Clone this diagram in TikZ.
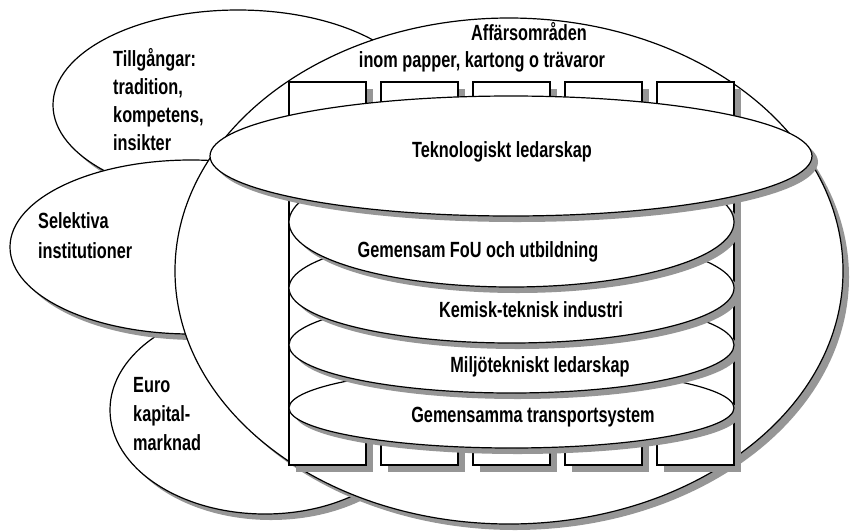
\documentclass[tikz,border=0pt]{standalone}
\usepackage{fontspec}
\newfontfamily\diagfont{Liberation Sans}[FakeStretch=0.74]
\definecolor{shadowgray}{RGB}{150,150,150}
\usetikzlibrary{
    shapes.geometric,
    shadows
}
\tikzstyle{blob} = [
    ellipse,
    draw=black,
    line width=1.2pt,
    fill=white,
    inner sep=0pt,
    outer sep=0pt,
    drop shadow={shadow xshift=6pt, shadow yshift=-6pt, fill=shadowgray, opacity=1}
]
\tikzstyle{pillar} = [
    rectangle,
    draw=black,
    line width=1.2pt,
    fill=white,
    minimum width=77pt,
    minimum height=383pt,
    inner sep=0pt,
    outer sep=0pt,
    drop shadow={shadow xshift=7pt, shadow yshift=-7pt, fill=shadowgray, opacity=1}
]
\tikzstyle{caption} = [
    font=\diagfont\bfseries\fontsize{22}{28}\selectfont,
    inner sep=0pt,
    align=left
]

\begin{document}
\begin{tikzpicture}[x=1pt, y=-1pt]
        \useasboundingbox (0,0) rectangle (851,531);

        % Side ellipses
        \node[blob, minimum width=370pt, minimum height=190pt] (assets) at (238,105) {};
        \node[blob, minimum width=310pt, minimum height=208pt] (euro) at (265,410) {};
        \node[blob, minimum width=362pt, minimum height=174pt] (selective) at (191,247) {};

        % Main ellipse
        \node[blob, minimum width=668pt, minimum height=506pt] (main) at (509,271) {};

        % Pillars
        \foreach \i in {1,...,5}
            \node[pillar] (pillar\i) at ({327.5+92*(\i-1)},273.5) {};

        % Discs, lowest first
        \node[blob, minimum width=445pt, minimum height=80pt] (transport) at (511.5,408) {};
        \node[blob, minimum width=445pt, minimum height=96pt] (envir) at (511.5,345) {};
        \node[blob, minimum width=445pt, minimum height=110pt] (chem) at (511.5,288) {};
        \node[blob, minimum width=445pt, minimum height=130pt] (rnd) at (511.5,222) {};
        \node[blob, minimum width=602pt, minimum height=120pt] (tech) at (511,156) {};

        % Labels
        \node[caption, anchor=west] (assetsText) at (113,100) {Tillgångar:\\tradition,\\kompetens,\\insikter};
        \node[caption, anchor=west, font=\diagfont\bfseries\fontsize{22}{30}\selectfont] (selectiveText) at (38,236) {Selektiva\\institutioner};
        \node[caption, anchor=west, font=\diagfont\bfseries\fontsize{22}{29}\selectfont] (euroText) at (133,414) {Euro\\kapital-\\marknad};
        \node[caption] (areasTitle) at (529,32) {Affärsområden};
        \node[caption] (areasSub) at (482,62) {inom papper, kartong o trävaror};
        \node[caption] (techText) at (502,152) {Teknologiskt ledarskap};
        \node[caption] (rndText) at (478,252) {Gemensam FoU och utbildning};
        \node[caption] (chemText) at (531,310) {Kemisk-teknisk industri};
        \node[caption] (envirText) at (540,367) {Miljötekniskt ledarskap};
        \node[caption] (transportText) at (533,417) {Gemensamma transportsystem};
    \end{tikzpicture}
\end{document}
